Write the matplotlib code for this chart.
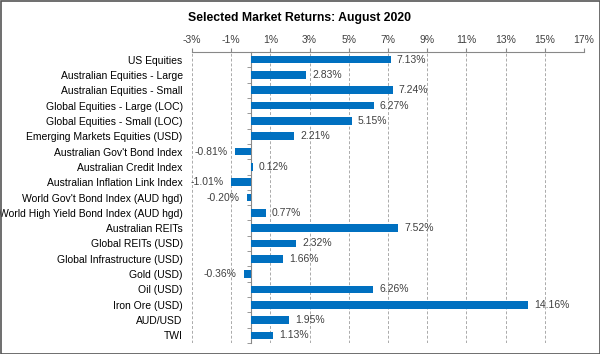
import numpy as np
import matplotlib.pyplot as plt
from matplotlib.ticker import FixedLocator

categories = ['US Equities', 'Australian Equities - Large', 'Australian Equities - Small',
              'Global Equities - Large (LOC)', 'Global Equities - Small (LOC)',
              'Emerging Markets Equities (USD)', "Australian Gov't Bond Index",
              'Australian Credit Index', 'Australian Inflation Link Index',
              "World Gov't Bond Index (AUD hgd)", 'World High Yield Bond Index (AUD hgd)',
              'Australian REITs', 'Global REITs (USD)', 'Global Infrastructure (USD)',
              'Gold (USD)', 'Oil (USD)', 'Iron Ore (USD)', 'AUD/USD', 'TWI']
returns = [7.13, 2.83, 7.24, 6.27, 5.15, 2.21, -0.81, 0.12, -1.01, -0.20, 0.77,
           7.52, 2.32, 1.66, -0.36, 6.26, 14.16, 1.95, 1.13]
xticks = [-3, -1, 1, 3, 5, 7, 9, 11, 13, 15, 17]

plt.rcParams['font.family'] = ['Liberation Sans', 'DejaVu Sans']
plt.rcParams['font.size'] = 7.5

fig = plt.figure(figsize=(6, 3.54), dpi=100)
ax = fig.add_axes([192 / 600, 1 - 343 / 354, (584 - 192) / 600, (343 - 52) / 354])

y = np.arange(len(categories))
ax.barh(y, returns, height=0.5, color='#0070C0', zorder=3)

# value labels
for yi, v in zip(y, returns):
    if v >= 0:
        ax.text(v + 0.3, yi, f'{v:.2f}%', va='center', ha='left', color='#404040')
    else:
        ax.text(v - 0.35, yi, f'{v:.2f}%', va='center', ha='right', color='#404040')

ax.set_xlim(-3, 17)
ax.set_ylim(len(categories) - 0.5, -0.5)
ax.set_xticks(xticks)
ax.set_xticklabels([f'{t}%' for t in xticks], color='#404040')
ax.xaxis.tick_top()
ax.tick_params(axis='x', length=3, color='#888888', pad=2)
ax.set_yticks(y)
ax.set_yticklabels(categories, color='#404040')
ax.tick_params(axis='y', length=0, pad=49)
ax.yaxis.set_minor_locator(FixedLocator(np.arange(-0.5, len(categories), 1)))
ax.tick_params(axis='y', which='minor', length=3, color='#888888')

# y axis sits at zero
ax.spines['left'].set_position(('data', 0))
ax.spines['left'].set_color('#888888')
ax.spines['top'].set_color('#888888')
ax.spines['right'].set_visible(False)
ax.spines['bottom'].set_visible(False)
ax.grid(axis='x', color='#aaaaaa', linestyle=(0, (3, 2)), linewidth=0.7, zorder=0)

fig.text(0.5, 1 - 18 / 354, 'Selected Market Returns: August 2020', ha='center', va='center',
         fontsize=8.8, fontweight='bold')

border = plt.Rectangle((0.5 / 600, 0.5 / 354), 1 - 1 / 600, 1 - 1 / 354, transform=fig.transFigure,
                       fill=False, edgecolor='#555555', linewidth=1.2)
fig.patches.append(border)

fig.savefig('out.png', dpi=100)
